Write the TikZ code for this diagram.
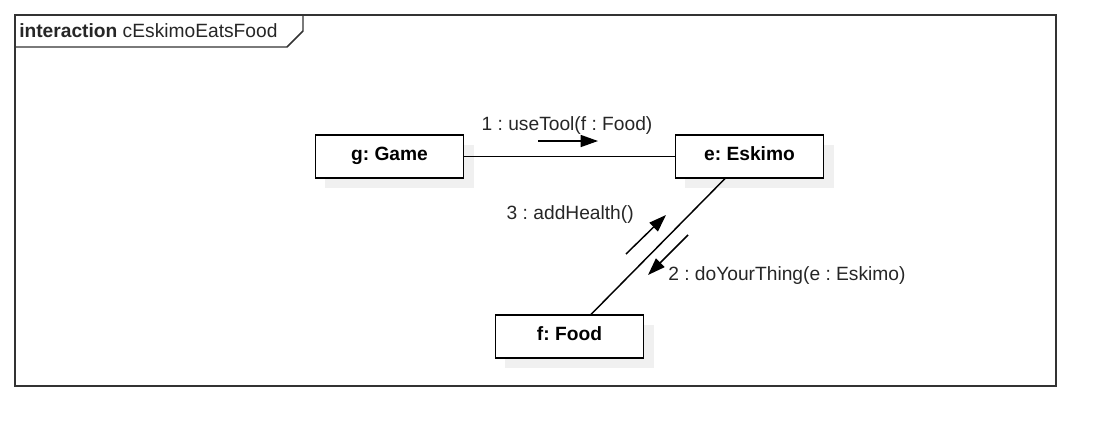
\documentclass[tikz,border=0pt]{standalone}
\usepackage{fontspec}
\setmainfont{Liberation Sans}
\usetikzlibrary{arrows.meta,calc}
\frenchspacing
\begin{document}
\begin{tikzpicture}[x=0.75pt,y=-0.75pt,
  every node/.style={font=\fontsize{14.4}{17}\selectfont},
  obj/.style={draw=black,line width=1.1pt,fill=white,inner sep=0pt,
    minimum width=111pt,minimum height=32pt,text height=0.75em,text depth=0.22em,
    font=\fontsize{14.4}{17}\selectfont\bfseries},
  shad/.style={fill=black!6,draw=none},
  conn/.style={line width=1.1pt,draw=black},
  msg/.style={line width=1.1pt,draw=black,-{Triangle[length=13pt,width=9pt]}},
  lbl/.style={inner sep=0pt,text=black!85}]
\useasboundingbox (0,0) rectangle (1116,447);
% frame
\draw[line width=1.1pt,draw=black!80] (15,15) rectangle (1056,386);
\draw[line width=1.1pt,draw=black!80] (15,47) -- (287,47) -- (303,31) -- (303,15);
\node[lbl,anchor=west] (title) at (19,31) {\textbf{interaction} cEskimoEatsFood};
% shadows
\fill[shad] (325,145) rectangle (474,188);
\fill[shad] (685,145) rectangle (834,188);
\fill[shad] (505,325) rectangle (654,368);
% objects
\node[obj] (g) at (389.5,156.5) {g: Game};
\node[obj] (e) at (749.5,156.5) {e: Eskimo};
\node[obj] (f) at (569.5,336.5) {f: Food};
% links
\draw[conn] (g) -- (e);
\coordinate (ea) at ($(e.south)+(-24.5,0)$);
\coordinate (fa) at ($(f.north)+(21.5,0)$);
\draw[conn] (ea) -- (fa);
% messages
\coordinate (m1s) at (538,141);
\coordinate (m1e) at (598,141);
\draw[msg] (m1s) -- (m1e);
\node[lbl] (l1) at (567,126) {1 : useTool(f : Food)};
\coordinate (m3s) at (626,254);
\coordinate (m3e) at (666,215);
\draw[msg] (m3s) -- (m3e);
\node[lbl,anchor=east] (l3) at (634,215) {3 : addHealth()};
\coordinate (m2s) at (688,235);
\coordinate (m2e) at (648,275);
\draw[msg] (m2s) -- (m2e);
\node[lbl,anchor=west] (l2) at (668,276) {2 : doYourThing(e : Eskimo)};
\end{tikzpicture}
\end{document}
